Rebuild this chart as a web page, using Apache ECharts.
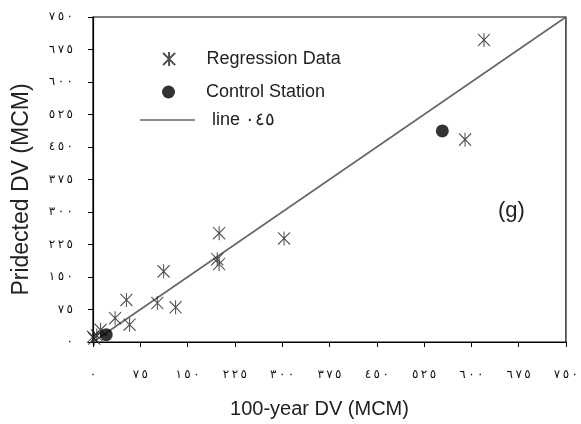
<!DOCTYPE html>
<html>
<head>
<meta charset="utf-8">
<script src="https://cdn.jsdelivr.net/npm/echarts@6/dist/echarts.min.js"></script>
<style>
  html, body { margin: 0; padding: 0; background: #fff; }
  #chart { width: 581px; height: 424px; }
</style>
</head>
<body>
<div id="chart"></div>
<script>
// Regression stations: observed 100-year DV vs. predicted DV (MCM)
const regressionObserved  = [620, 590, 303, 200, 197, 200, 112, 53, 102, 131, 35, 58, 12, 6, 2, 0];
const regressionPredicted = [697, 467, 239, 251, 191, 180, 163, 97, 90, 80, 55, 40, 28, 15, 8, 12];

// Control stations
const controlObserved  = [554, 21];
const controlPredicted = [487, 17];

// 45-degree reference line
const lineEnds = [0, 750];

// Axis ticks
const axisMin = 0, axisMax = 750, axisStep = 75;

const arabicDigits = '٠١٢٣٤٥٦٧٨٩';
// Arabic-Indic numerals, slightly spaced apart; LRM marks keep the digit order left-to-right
const toArabic = v => String(v).split('').map(d => arabicDigits[d]).join('\u200E\u2009\u200E');

const asteriskPath = 'path://M-1,-1L1,1M-1,1L1,-1M0,-1.15L0,1.15';

const regressionData = regressionObserved.map((x, i) => [x, regressionPredicted[i]]);
const controlData = controlObserved.map((x, i) => [x, controlPredicted[i]]);
const lineData = lineEnds.map(v => [v, v]);

const tickLabel = {
  color: '#111',
  fontFamily: 'DejaVu Sans',
  fontSize: 12,
  formatter: v => toArabic(v)
};

const chart = echarts.init(document.getElementById('chart'), null, { renderer: 'canvas' });

chart.setOption({
  animation: false,
  backgroundColor: '#fff',
  textStyle: { fontFamily: 'Liberation Sans' },
  grid: {
    left: 93, right: 13, top: 17, bottom: 80,
    show: true, borderColor: '#000', borderWidth: 1.2
  },
  xAxis: {
    type: 'value', min: axisMin, max: axisMax, interval: axisStep,
    name: '100-year DV (MCM)', nameLocation: 'middle', nameGap: 57,
    nameTextStyle: { fontSize: 20, color: '#222', padding: [0, 20, 0, 0] },
    axisLine: { lineStyle: { color: '#000', width: 1.2 } },
    axisTick: { inside: false, length: 5, lineStyle: { color: '#000' } },
    axisLabel: Object.assign({ margin: 27 }, tickLabel),
    splitLine: { show: false }
  },
  yAxis: {
    type: 'value', min: axisMin, max: axisMax, interval: axisStep,
    name: 'Pridected DV (MCM)', nameLocation: 'middle', nameGap: 60,
    nameTextStyle: { fontSize: 23, color: '#222', padding: [0, 20, 0, 0] },
    axisLine: { lineStyle: { color: '#000', width: 1.2 } },
    axisTick: { inside: false, length: 5, lineStyle: { color: '#000' } },
    axisLabel: Object.assign({ margin: 20 }, tickLabel),
    splitLine: { show: false }
  },
  legend: [
    {
      data: ['Regression Data'], orient: 'vertical', left: 162, top: 50, padding: 0,
      itemWidth: 13, itemHeight: 14,
      textStyle: { fontSize: 18, color: '#222', padding: [0, 0, 0, 26] }
    },
    {
      data: ['Control Station'], orient: 'vertical', left: 162, top: 83, padding: 0,
      itemWidth: 13, itemHeight: 13,
      textStyle: { fontSize: 18, color: '#222', padding: [0, 0, 0, 26] }
    },
    {
      data: [{ name: 'line ٠٤٥', icon: 'rect' }], orient: 'vertical', left: 140, top: 111, padding: 0,
      itemWidth: 55, itemHeight: 1.6,
      itemStyle: { color: '#666' },
      textStyle: { fontSize: 18, color: '#222', padding: [0, 0, 0, 12] }
    }
  ],
  graphic: [
    {
      type: 'text', left: 498, top: 200,
      style: { text: '(g)', fontSize: 22, fill: '#222', fontFamily: 'Liberation Sans' }
    }
  ],
  series: [
    {
      name: 'line ٠٤٥', type: 'line', data: lineData,
      symbol: 'none', itemStyle: { color: '#666' },
      lineStyle: { color: '#666', width: 1.6 }, z: 1
    },
    {
      name: 'Regression Data', type: 'scatter', data: regressionData,
      symbol: asteriskPath, symbolSize: [12, 14],
      itemStyle: { color: 'transparent', borderColor: '#222', borderWidth: 1.1 }, z: 3
    },
    {
      name: 'Control Station', type: 'scatter', data: controlData,
      symbol: 'circle', symbolSize: 13,
      itemStyle: { color: '#000' }, z: 4
    }
  ]
});
</script>
</body>
</html>
